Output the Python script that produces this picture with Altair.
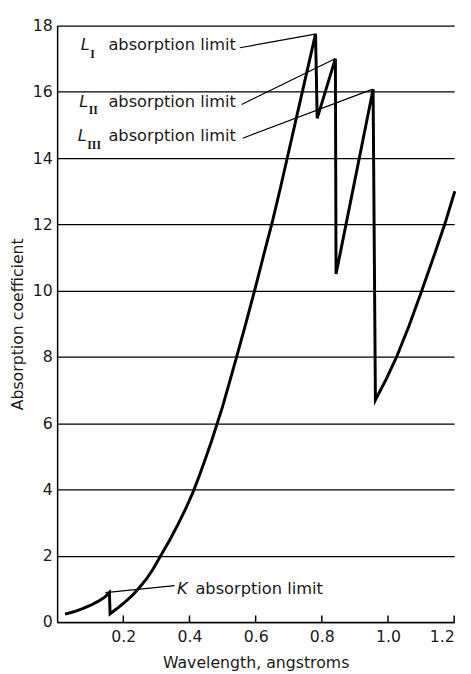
import altair as alt
import pandas as pd

# Curve
wavelength = [0.024, 0.05, 0.075, 0.10, 0.125, 0.145, 0.158, 0.160, 0.18, 0.20, 0.225, 0.245,
              0.27, 0.29, 0.313, 0.34, 0.365, 0.39, 0.412, 0.43, 0.45, 0.467, 0.484, 0.50,
              0.52, 0.541, 0.57, 0.598, 0.625, 0.651, 0.676, 0.70, 0.724, 0.748, 0.772,
              0.781, 0.786, 0.841, 0.843, 0.955, 0.962, 0.995, 1.026, 1.064, 1.102, 1.138,
              1.173, 1.202]
coef = [0.24, 0.31, 0.40, 0.50, 0.63, 0.76, 0.89, 0.25, 0.40, 0.56, 0.78, 1.0,
        1.3, 1.6, 2.0, 2.47, 2.94, 3.45, 3.95, 4.42, 4.98, 5.47, 6.0, 6.5,
        7.2, 7.95, 9.0, 10.05, 11.1, 12.1, 13.15, 14.2, 15.25, 16.3, 17.35,
        17.75, 15.2, 17.0, 10.5, 16.08, 6.7, 7.34, 8.0, 8.95, 10.0, 11.02,
        12.05, 13.0]

x_ticks = [0.2, 0.4, 0.6, 0.8, 1.0, 1.2]
y_ticks = [0, 2, 4, 6, 8, 10, 12, 14, 16, 18]

# Annotations
label_text = ["absorption limit", "absorption limit", "absorption limit"]
label_sub = ["I", "II", "III"]
label_y = [17.4, 15.7, 14.65]
leader_x = [0.552, 0.558, 0.561, 0.146]
leader_y = [17.33, 15.62, 14.6, 0.89]
leader_x2 = [0.780, 0.840, 0.954, 0.355]
leader_y2 = [17.74, 17.0, 16.08, 1.10]
k_letter = ["K"]
k_text = ["absorption limit"]

FONT = "DejaVu Sans"
INK = "#1a1a1a"

curve = pd.DataFrame({"x": wavelength, "y": coef, "i": range(len(wavelength))})
xs = alt.Scale(domain=[0, 1.2], nice=False, zero=False)
ys = alt.Scale(domain=[0, 18], nice=False)

line = alt.Chart(curve).mark_line(color="black", strokeWidth=3, strokeJoin="miter",
                                  strokeMiterLimit=5).encode(
    x=alt.X("x:Q", scale=xs, title="Wavelength, angstroms",
            axis=alt.Axis(values=x_ticks, format=".1f", grid=False, ticks=False,
                          domainColor="black", domainWidth=1.5, labelFont=FONT,
                          labelFontSize=16, labelColor=INK, labelPadding=7,
                          titleFont=FONT, titleFontSize=16, titleFontWeight="normal",
                          titleColor=INK, titlePadding=10)),
    y=alt.Y("y:Q", scale=ys, title="Absorption coefficient",
            axis=alt.Axis(values=y_ticks, grid=True, gridColor="black", gridWidth=1.3,
                          gridOpacity=1, ticks=False, domainColor="black", domainWidth=1.5,
                          labelFont=FONT, labelFontSize=16, labelColor=INK, labelPadding=5,
                          titleFont=FONT, titleFontSize=16, titleFontWeight="normal",
                          titleColor=INK, titlePadding=7)),
    order="i:O",
)

ticks_df = pd.DataFrame({"x": x_ticks, "y0": [0] * len(x_ticks), "y1": [0.2] * len(x_ticks)})
tick_marks = alt.Chart(ticks_df).mark_rule(color="black", strokeWidth=1.5).encode(
    x=alt.X("x:Q", scale=xs), y=alt.Y("y0:Q", scale=ys), y2="y1:Q")

leaders_df = pd.DataFrame({"x": leader_x, "y": leader_y, "x2": leader_x2, "y2": leader_y2})
leaders = alt.Chart(leaders_df).mark_rule(color="black", strokeWidth=1.2).encode(
    x=alt.X("x:Q", scale=xs), y=alt.Y("y:Q", scale=ys), x2="x2:Q", y2="y2:Q")

lab_df = pd.DataFrame({"t": label_text, "y": label_y, "x": [0.540] * 3})
labels = alt.Chart(lab_df).mark_text(font=FONT, fontSize=16.5, color=INK, align="right",
                                     baseline="middle").encode(
    x=alt.X("x:Q", scale=xs), y=alt.Y("y:Q", scale=ys), text="t:N")

sub_df = pd.DataFrame({"t": label_sub, "y": [v - 0.26 for v in label_y],
                       "x": [0.1000, 0.0955, 0.0910]})
subs = alt.Chart(sub_df).mark_text(font="Liberation Serif", fontSize=12, fontWeight="bold",
                                   color=INK, align="left", baseline="middle").encode(
    x=alt.X("x:Q", scale=xs), y=alt.Y("y:Q", scale=ys), text="t:N")

ell_df = pd.DataFrame({"t": ["L", "L", "L"], "y": label_y, "x": [0.0985, 0.0940, 0.0895]})
ells = alt.Chart(ell_df).mark_text(font=FONT, fontSize=16.5, fontStyle="italic", color=INK,
                                   align="right", baseline="middle").encode(
    x=alt.X("x:Q", scale=xs), y=alt.Y("y:Q", scale=ys), text="t:N")

kl_df = pd.DataFrame({"t": k_letter, "x": [0.362], "y": [1.0]})
kletter = alt.Chart(kl_df).mark_text(font=FONT, fontSize=16.5, fontStyle="italic", color=INK,
                                     align="left", baseline="middle").encode(
    x=alt.X("x:Q", scale=xs), y=alt.Y("y:Q", scale=ys), text="t:N")

k_df = pd.DataFrame({"t": k_text, "x": [0.418], "y": [1.0]})
klab = alt.Chart(k_df).mark_text(font=FONT, fontSize=16.5, color=INK, align="left",
                                 baseline="middle").encode(
    x=alt.X("x:Q", scale=xs), y=alt.Y("y:Q", scale=ys), text="t:N")

chart = alt.layer(line, tick_marks, leaders, labels, subs, ells, kletter, klab).properties(
    width=404, height=607,
    autosize=alt.AutoSizeParams(type="none"),
    padding={"left": 50, "top": 12, "right": 9, "bottom": 46},
    background="white",
).configure_view(stroke=None)

chart.save("out.html", embed_options={"renderer": "svg", "actions": False})
